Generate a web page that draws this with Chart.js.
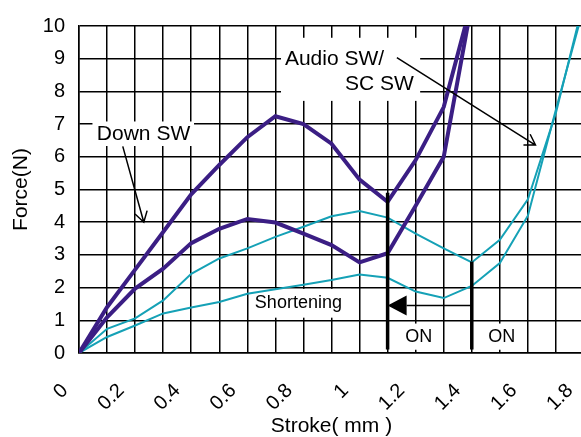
<!DOCTYPE html>
<html>
<head>
<meta charset="utf-8">
<script src="https://cdn.jsdelivr.net/npm/chart.js@4.4.1/dist/chart.umd.min.js"></script>
<style>
  html, body { margin: 0; padding: 0; background: #fff; overflow: hidden; }
  canvas { display: block; }
</style>
</head>
<body>
<canvas id="forceChart" width="584" height="437"></canvas>
<script>
// stroke positions (mm), one grid step apart
const strokeMm = [0, 0.1, 0.2, 0.3, 0.4, 0.5, 0.6, 0.7, 0.8, 0.9, 1.0, 1.1, 1.2, 1.3, 1.4, 1.5, 1.6, 1.7, 1.8];

// force (N)
const downSwA  = [0, 1.4, 2.55, 3.7, 4.85, 5.75, 6.6, 7.24, 7.0, 6.4, 5.3, 4.62, 5.9, 7.52, 10.75];
const downSwB  = [0, 1.09, 1.97, 2.58, 3.36, 3.8, 4.1, 3.99, 3.65, 3.3, 2.77, 3.05, 4.5, 6.0, 10.7];
const audioSwA = [0, 0.74, 1.06, 1.61, 2.42, 2.89, 3.2, 3.55, 3.86, 4.18, 4.34, 4.14, 3.65, 3.2, 2.77, 3.46, 4.7, 7.35, 10.8];
const audioSwB = [0, 0.49, 0.84, 1.21, 1.39, 1.56, 1.81, 1.95, 2.09, 2.23, 2.4, 2.3, 1.88, 1.68, 2.05, 2.75, 4.2, 7.45, 10.6];

// the two "ON" markers
const onDown  = [{x: 1.1, y: 4.9}, {x: 1.1, y: 0.11}];
const onAudio = [{x: 1.4, y: 2.8}, {x: 1.4, y: 0.11}];

const yTicks = [0, 1, 2, 3, 4, 5, 6, 7, 8, 9, 10];

function toPoints(values) {
    return values.map(function(v, i){ return {x: strokeMm[i], y: v}; });
}

const FONT = "'Liberation Sans', Arial, sans-serif";
const PURPLE = "#3b1e84";
const TEAL = "#15a1b6";

// notes on the plot, in data units
const noteBoxes = [
    {x0: 0.048, x1: 0.41,  y0: 7.08, y1: 6.33},   // Down SW
    {x0: 0.72,  x1: 1.216, y0: 9.64, y1: 7.71},   // Audio SW / SC SW
    {x0: 0.61,  x1: 0.97,  y0: 1.96, y1: 1.08},   // Shortening
    {x0: 1.14,  x1: 1.28,  y0: 0.9,  y1: 0.1},    // ON
    {x0: 1.44,  x1: 1.577, y0: 0.9,  y1: 0.1}     // ON
];
const noteTexts = [
    {text: "Down SW",    x: 0.23,  y: 6.69, size: 21, align: "center"},
    {text: "Audio SW/",  x: 0.734, y: 8.98, size: 21, align: "left"},
    {text: "SC SW",      x: 0.948, y: 8.22, size: 21, align: "left"},
    {text: "Shortening", x: 0.782, y: 1.54, size: 18, align: "center"},
    {text: "ON",         x: 1.211, y: 0.48, size: 18, align: "center"},
    {text: "ON",         x: 1.507, y: 0.48, size: 18, align: "center"}
];
const noteArrows = [
    {from: [0.156, 6.32], to: [0.231, 4.0], filled: false},
    {from: [1.133, 9.03], to: [1.627, 6.36], filled: false},
    {from: [1.4, 1.45],   to: [1.1, 1.45],   filled: true}
];

function drawArrow(ctx, x1, y1, x2, y2, filled) {
    let ang = Math.atan2(y2 - y1, x2 - x1);
    ctx.strokeStyle = "#000";
    ctx.fillStyle = "#000";
    ctx.lineWidth = 1.5;
    if (filled) {
        let len = 19, half = 10;
        let bx = x2 - len * Math.cos(ang), by = y2 - len * Math.sin(ang);
        ctx.beginPath();
        ctx.moveTo(x1, y1);
        ctx.lineTo(bx, by);
        ctx.stroke();
        ctx.beginPath();
        ctx.moveTo(x2, y2);
        ctx.lineTo(bx - half * Math.sin(ang), by + half * Math.cos(ang));
        ctx.lineTo(bx + half * Math.sin(ang), by - half * Math.cos(ang));
        ctx.closePath();
        ctx.fill();
    } else {
        let len = 12, a = 0.55;
        ctx.beginPath();
        ctx.moveTo(x1, y1);
        ctx.lineTo(x2, y2);
        ctx.moveTo(x2 - len * Math.cos(ang - a), y2 - len * Math.sin(ang - a));
        ctx.lineTo(x2, y2);
        ctx.lineTo(x2 - len * Math.cos(ang + a), y2 - len * Math.sin(ang + a));
        ctx.stroke();
    }
}

const notesPlugin = {
    id: "notes",
    beforeDatasetsDraw: function(chart) {
        const ctx = chart.ctx, sx = chart.scales.x, sy = chart.scales.y;
        ctx.save();
        // white boxes hide the grid behind the labels
        ctx.fillStyle = "#fff";
        noteBoxes.forEach(function(b){
            let l = sx.getPixelForValue(b.x0), r = sx.getPixelForValue(b.x1);
            let t = sy.getPixelForValue(b.y0), btm = sy.getPixelForValue(b.y1);
            ctx.fillRect(l, t, r - l, btm - t);
        });
        ctx.fillStyle = "#000";
        ctx.textBaseline = "middle";
        noteTexts.forEach(function(n){
            ctx.font = n.size + "px " + FONT;
            ctx.textAlign = n.align;
            ctx.fillText(n.text, sx.getPixelForValue(n.x), sy.getPixelForValue(n.y));
        });
        ctx.restore();
    },
    afterDatasetsDraw: function(chart) {
        const ctx = chart.ctx, sx = chart.scales.x, sy = chart.scales.y;
        ctx.save();
        noteArrows.forEach(function(a){
            drawArrow(ctx,
                sx.getPixelForValue(a.from[0]), sy.getPixelForValue(a.from[1]),
                sx.getPixelForValue(a.to[0]), sy.getPixelForValue(a.to[1]), a.filled);
        });
        ctx.restore();
    }
};

Chart.defaults.font.family = FONT;
Chart.defaults.color = "#000";

new Chart(document.getElementById("forceChart"), {
    type: "line",
    data: {
        datasets: [
            {data: onDown,  borderColor: "#000", borderWidth: 3.5},
            {data: onAudio, borderColor: "#000", borderWidth: 3.5},
            {data: toPoints(downSwA),  borderColor: PURPLE, borderWidth: 4},
            {data: toPoints(downSwB),  borderColor: PURPLE, borderWidth: 4},
            {data: toPoints(audioSwA), borderColor: TEAL, borderWidth: 2},
            {data: toPoints(audioSwB), borderColor: TEAL, borderWidth: 2}
        ]
    },
    options: {
        responsive: false,
        animation: false,
        events: [],
        layout: {padding: {top: 21, left: 0, right: 0, bottom: 0}},
        elements: {
            point: {radius: 0},
            line: {tension: 0, borderCapStyle: "butt", borderJoinStyle: "miter"}
        },
        datasets: {line: {clip: 0, fill: false}},
        plugins: {legend: {display: false}, tooltip: {enabled: false}},
        scales: {
            x: {
                type: "linear",
                min: 0,
                max: 1.8,
                grid: {color: "#000", lineWidth: 1.5, drawTicks: false},
                border: {color: "#000", width: 1.5},
                ticks: {
                    stepSize: 0.1,
                    autoSkip: false,
                    minRotation: 45,
                    maxRotation: 45,
                    labelOffset: -14,
                    padding: 26,
                    font: {size: 20},
                    callback: function(v){
                        let k = Math.round(v * 10);
                        return k % 2 === 0 ? String(k / 10) : "";
                    }
                },
                title: {display: true, text: "Stroke( mm )", font: {size: 21, lineHeight: 1}, padding: 0},
                afterFit: function(s){ s.height = 84; s.paddingLeft = 0; s.paddingRight = 0; }
            },
            y: {
                min: 0,
                max: 10,
                grid: {color: "#000", lineWidth: 1.5, drawTicks: false},
                border: {color: "#000", width: 1.5},
                afterBuildTicks: function(s){ s.ticks = yTicks.map(function(v){ return {value: v}; }); },
                ticks: {padding: 14, font: {size: 20}},
                title: {display: true, text: "Force(N)", font: {size: 21, lineHeight: 1}, padding: {top: 11, bottom: 0}},
                afterFit: function(s){ s.width = 79; }
            }
        }
    },
    plugins: [notesPlugin]
});
</script>
</body>
</html>
